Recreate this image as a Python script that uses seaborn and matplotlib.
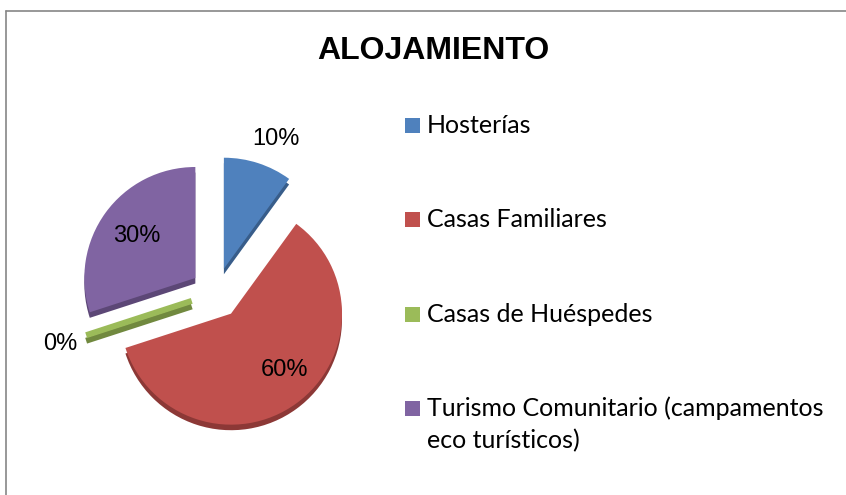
import numpy as np
import matplotlib.pyplot as plt
import seaborn as sns
from matplotlib.lines import Line2D
from matplotlib.patches import Rectangle

categories = ["Hosterías", "Casas Familiares", "Casas de Huéspedes",
              "Turismo Comunitario (campamentos\neco turísticos)"]
shares = [10, 60, 0, 30]
title = "ALOJAMIENTO"

colors = ["#4F81BD", "#C0504D", "#9BBB59", "#8064A2"]
side_colors = ["#385D8A", "#8C3836", "#71893F", "#5C4776"]
# distance of each % label from its slice apex (radius units), angle tweak
label_dist = [1.26, 0.70, 1.25, 0.65]
label_rot = [-4, 8, 0, 0]

sns.set_theme(style="white")

W, H = 846, 495
fig = plt.figure(figsize=(W / 100, H / 100), dpi=100)
fig.patch.set_facecolor("white")

# pie centre at (216, 292) px, radius ~111 px
r_px = 111
span = 3.2
side = span * r_px
ax = fig.add_axes([(216 - side / 2) / W, (H - 293 - side / 2) / H, side / W, side / H])

explode = [0.23] * len(shares)

# darker copy a bit lower to give the 3D side wall
sw, _ = ax.pie(shares, colors=side_colors, explode=explode, startangle=90,
               counterclock=False, center=(0, -0.05),
               wedgeprops=dict(linewidth=0))
wedges, _ = ax.pie(shares, colors=colors, explode=explode, startangle=90,
                   counterclock=False, wedgeprops=dict(linewidth=0))

for w_list, cols in ((sw, side_colors), (wedges, colors)):
    for w, val, c in zip(w_list, shares, cols):
        if val == 0:
            w.set_edgecolor(c)
            w.set_linewidth(4.3)
            w.set_joinstyle("bevel")
            w.set_capstyle("butt")

for w, val, d, rot in zip(wedges, shares, label_dist, label_rot):
    th = np.deg2rad((w.theta1 + w.theta2) / 2 + rot)
    cx, cy = w.center
    ax.text(cx + d * np.cos(th), cy + d * np.sin(th), f"{val:.0f}%",
            ha="center", va="center", fontsize=17,
            family="Liberation Sans", color="black")

ax.set_xlim(-span / 2, span / 2)
ax.set_ylim(-span / 2, span / 2)
ax.set_aspect("equal")
ax.axis("off")

fig.text(433 / W, 1 - 51 / H, title, ha="center", va="center", color="black",
         fontsize=23, fontweight="bold", family="Liberation Sans")

# legend, drawn by hand so the marker sits on the first text line
mk = 15
x0 = 405
y_first = 118
step = 94.3
line_h = 32
for i, (lab, c) in enumerate(zip(categories, colors)):
    top = y_first + i * step
    fig.patches.append(Rectangle((x0 / W, 1 - (top + mk) / H), mk / W, mk / H,
                                 transform=fig.transFigure, facecolor=c,
                                 edgecolor="none"))
    for k, line in enumerate(lab.split("\n")):
        fig.text(427 / W, 1 - (top + mk + k * line_h) / H, line, ha="left",
                 va="baseline", fontsize=18, family="Lato", color="black")

# chart frame: only top and left edges are inside the picture
bx, by = 5.5 / W, 1 - 10.5 / H
fig.add_artist(Line2D([bx, 1.02], [by, by], transform=fig.transFigure,
                      color="#868686", linewidth=1.2))
fig.add_artist(Line2D([bx, bx], [-0.02, by], transform=fig.transFigure,
                      color="#868686", linewidth=1.2))

fig.savefig("out.png", dpi=100, facecolor="white")
